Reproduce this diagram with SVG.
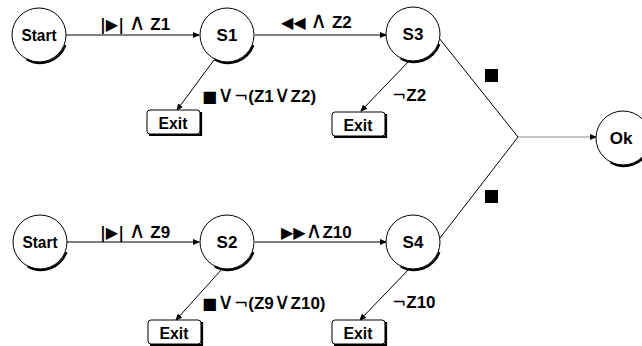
<svg xmlns="http://www.w3.org/2000/svg" xmlns:xlink="http://www.w3.org/1999/xlink" width="642" height="346" viewBox="0 0 642 346">
<style>
.lbl{font-family:"Liberation Sans","DejaVu Sans",sans-serif;font-weight:bold;font-size:17px;fill:#000}
.op{font-family:"DejaVu Sans",sans-serif;font-weight:normal;font-size:23px}
.neg{font-family:"DejaVu Sans",sans-serif;font-weight:normal;font-size:17px}
.sym{font-family:"DejaVu Sans",sans-serif;font-weight:bold;font-size:16px}
.nt{font-family:"Liberation Sans","DejaVu Sans",sans-serif;font-weight:bold;font-size:17px;fill:#000;text-anchor:middle}
.edge{stroke:#000;stroke-width:1;fill:none}
.ring{fill:#fff;stroke:#000;stroke-width:1}
.shadow{fill:none;stroke:#000;stroke-width:2.2}
.box{fill:#fff;stroke:#000;stroke-width:1}
</style>
<defs>
<marker id="ah" markerWidth="7" markerHeight="6" refX="6" refY="3" orient="auto" markerUnits="userSpaceOnUse">
<path d="M0,0 L7,3 L0,6 Z" fill="#000"/>
</marker>
<g id="circ">
<circle class="ring" r="27"/>
<path class="shadow" d="M26.4,10.2 A27,27 0 0 1 -12.5,24.4"/>
</g>
<g id="exitbox">
<rect class="box" x="0" y="0" width="53" height="24" rx="3"/>
<path class="shadow" d="M54,2 L54,25 L2,25"/>
</g>
</defs>

<g id="connectors">
<line class="edge" x1="66" y1="35" x2="199" y2="35" marker-end="url(#ah)"/>
<line class="edge" x1="255" y1="35" x2="386" y2="35" marker-end="url(#ah)"/>
<line class="edge" x1="214" y1="60" x2="177" y2="110" marker-end="url(#ah)"/>
<line class="edge" x1="409" y1="61" x2="361" y2="111" marker-end="url(#ah)"/>
<polyline class="edge" points="439,38 518,137 440,238"/>
<line x1="518" y1="137" x2="596" y2="137" stroke="#888" stroke-width="1" marker-end="url(#ah)"/>
<line class="edge" x1="67" y1="242" x2="199" y2="242" marker-end="url(#ah)"/>
<line class="edge" x1="255" y1="242" x2="386" y2="242" marker-end="url(#ah)"/>
<line class="edge" x1="222" y1="269" x2="176" y2="320" marker-end="url(#ah)"/>
<line class="edge" x1="409" y1="269" x2="360" y2="320" marker-end="url(#ah)"/>
<text class="lbl" x="100" y="30"><tspan class="sym">|▶|</tspan> <tspan class="op">∧</tspan> Z1</text>
<text class="lbl" x="281" y="28"><tspan class="sym">◀◀</tspan> <tspan class="op">∧</tspan> Z2</text>
<text class="lbl" x="202" y="102"><tspan class="sym">■</tspan><tspan class="op">∨</tspan><tspan class="neg">¬</tspan>(Z1<tspan class="op">∨</tspan>Z2)</text>
<text class="lbl" x="392" y="101"><tspan class="neg">¬</tspan>Z2</text>
<rect x="485" y="69" width="13" height="13" fill="#000"/>
<text class="lbl" x="100" y="238"><tspan class="sym">|▶|</tspan> <tspan class="op">∧</tspan> Z9</text>
<text class="lbl" x="281" y="238"><tspan class="sym">▶▶</tspan><tspan class="op">∧</tspan>Z10</text>
<text class="lbl" x="202" y="309"><tspan class="sym">■</tspan><tspan class="op">∨</tspan><tspan class="neg">¬</tspan>(Z9<tspan class="op">∨</tspan>Z10)</text>
<text class="lbl" x="392" y="308"><tspan class="neg">¬</tspan>Z10</text>
<rect x="485" y="190" width="13" height="13" fill="#000"/>
</g>

<g id="start1"><use xlink:href="#circ" x="39" y="35"/><text class="nt" x="39" y="41" textLength="35" lengthAdjust="spacingAndGlyphs">Start</text></g>
<g id="s1"><use xlink:href="#circ" x="227" y="35"/><text class="nt" x="227" y="41">S1</text></g>
<g id="s3"><use xlink:href="#circ" x="413" y="34"/><text class="nt" x="413" y="40">S3</text></g>
<g id="ok"><use xlink:href="#circ" x="623" y="138"/><text class="nt" x="621" y="144">Ok</text></g>
<g id="start2"><use xlink:href="#circ" x="40" y="242"/><text class="nt" x="40" y="248" textLength="35" lengthAdjust="spacingAndGlyphs">Start</text></g>
<g id="s2"><use xlink:href="#circ" x="227" y="242"/><text class="nt" x="227" y="248">S2</text></g>
<g id="s4"><use xlink:href="#circ" x="413" y="242"/><text class="nt" x="413" y="248">S4</text></g>
<g id="exit1"><use xlink:href="#exitbox" x="147" y="110"/><text class="nt" x="173" y="129" textLength="29" lengthAdjust="spacingAndGlyphs">Exit</text></g>
<g id="exit2"><use xlink:href="#exitbox" x="332" y="112"/><text class="nt" x="358" y="131" textLength="29" lengthAdjust="spacingAndGlyphs">Exit</text></g>
<g id="exit3"><use xlink:href="#exitbox" x="148" y="320"/><text class="nt" x="174" y="339" textLength="29" lengthAdjust="spacingAndGlyphs">Exit</text></g>
<g id="exit4"><use xlink:href="#exitbox" x="332" y="320"/><text class="nt" x="358" y="339" textLength="29" lengthAdjust="spacingAndGlyphs">Exit</text></g>
</svg>
